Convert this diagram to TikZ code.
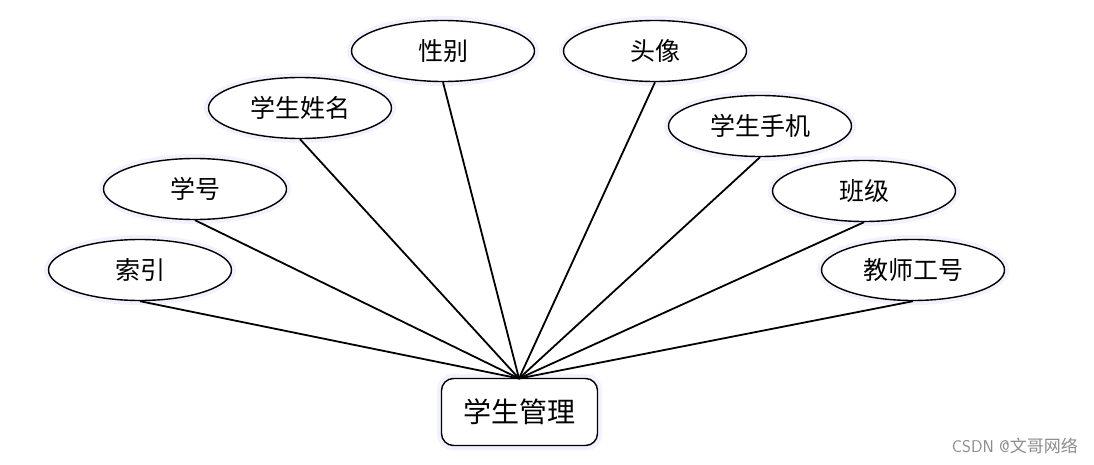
\documentclass[tikz,border=0pt]{standalone}
\usepackage{fontspec}
\usetikzlibrary{shapes.geometric}
\newfontfamily\cjk{Noto Sans CJK SC}
\begin{document}
\begin{tikzpicture}[x=1pt,y=-1pt,
  attr/.style={ellipse, draw=black, line width=1.4pt, minimum width=183pt, minimum height=61pt, inner sep=0pt, font=\cjk\fontsize{25}{25}\selectfont},
  glow/.style={ellipse, draw=blue!5, line width=5pt, minimum width=187pt, minimum height=65pt, inner sep=0pt},
  ent/.style={rectangle, rounded corners=12pt, draw=black, line width=1.4pt, minimum width=156pt, minimum height=67pt, inner sep=0pt, font=\cjk\fontsize{28}{28}\selectfont},
  link/.style={line width=1.8pt, black}]
\useasboundingbox (0,0) rectangle (1094,465);
\fill[white] (0,0) rectangle (1094,465);
% glows
\foreach \p in {(140,270),(195,189),(300,108),(443,51),(655,51),(760,126),(864,191),(913,270)}
  \node[glow] at \p {};
\node[rectangle, rounded corners=13pt, draw=blue!5, line width=5pt, minimum width=160pt, minimum height=71pt] at (519.5,412) {};
% nodes
\node[attr] (a1) at (140,270) {索引};
\node[attr] (a2) at (195,189) {学号};
\node[attr] (a3) at (300,108) {学生姓名};
\node[attr] (a4) at (443,51) {性别};
\node[attr] (a5) at (655,51) {头像};
\node[attr] (a6) at (760,126) {学生手机};
\node[attr] (a7) at (864,191) {班级};
\node[attr] (a8) at (913,270) {教师工号};
\node[ent] (e) at (519.5,412) {学生管理};
\coordinate (c) at (519,378.5);
\foreach \n in {a1,a2,a3,a4,a5,a6,a7,a8}
  \draw[link] (\n.south) -- (c);
\node[font=\sffamily\fontsize{17}{17}\selectfont, text=black!45, anchor=east, inner sep=0pt] (wm) at (1078,446) {CSDN @{\cjk 文哥网络}};
\end{tikzpicture}
\end{document}
